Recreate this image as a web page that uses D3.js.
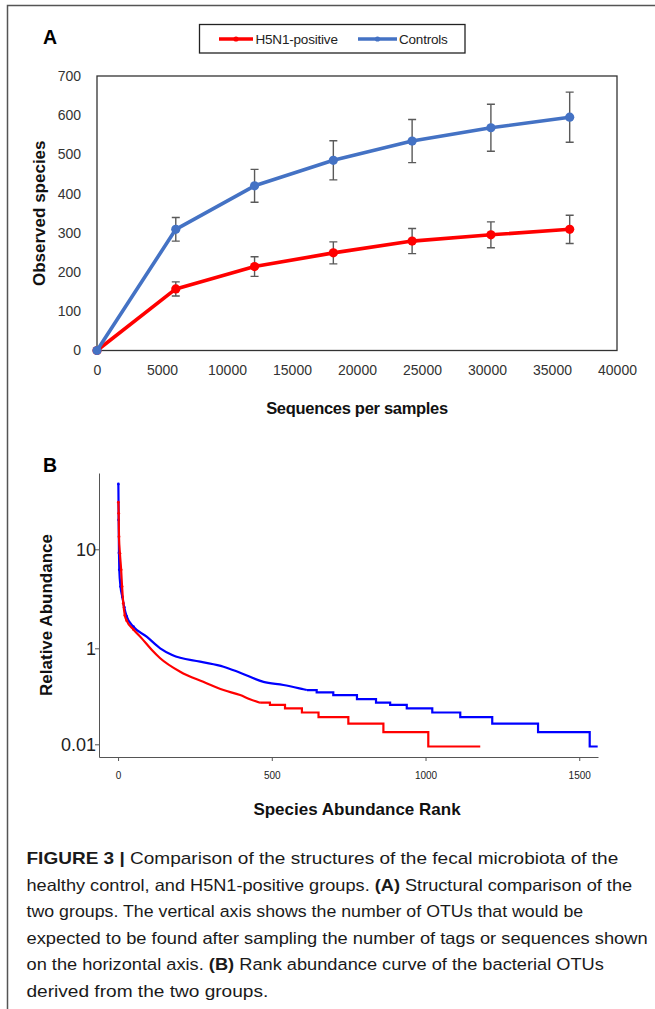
<!DOCTYPE html>
<html>
<head>
<meta charset="utf-8">
<script src="https://cdn.jsdelivr.net/npm/d3@7"></script>
<style>
  html, body { margin: 0; padding: 0; background: #fff; }
  svg { display: block; }
  text { font-family: "Liberation Sans", Arial, sans-serif; }
</style>
</head>
<body>
<script>
// ---------------- DATA ----------------
// Panel A: rarefaction curves
const seqDepth      = [0, 6060, 12120, 18180, 24240, 30300, 36360];
const h5n1Mean      = [0, 157, 214, 249, 279, 295, 309];
const h5n1Err       = [0, 18, 25, 28, 32, 33, 36];
const controlMean   = [0, 309, 420, 485, 534, 568, 595];
const controlErr    = [0, 30, 42, 50, 55, 60, 64];
const seriesNames   = ["H5N1-positive", "Controls"];
const xTicksA       = [0, 5000, 10000, 15000, 20000, 25000, 30000, 35000, 40000];
const yTicksA       = [0, 100, 200, 300, 400, 500, 600, 700];

// Panel B: rank abundance curves (head = dense part, steps = tail)
const controlHeadRank  = [1, 2, 3, 4, 8, 14, 20, 28, 50, 93, 137, 176, 267, 343, 397, 473, 538, 603, 614];
const controlHeadAbund = [45.7, 19.8, 9.2, 6.2, 4.2, 3.3, 2.6, 2.1, 1.65, 1.31, 1.0, 0.725, 0.526, 0.414, 0.31, 0.2, 0.172, 0.14, 0.135];
const controlStepRank  = [614, 646, 700, 777, 839, 885, 939, 1022, 1113, 1217, 1366, 1534, 1560];
const controlStepAbund = [0.135, 0.121, 0.106, 0.087, 0.074, 0.066, 0.056, 0.046, 0.037, 0.027, 0.018, 0.009, 0.009];

const h5n1HeadRank  = [1, 2, 3, 6, 10, 13, 17, 22, 28, 50, 77, 110, 137, 202, 277, 343, 397, 429, 462];
const h5n1HeadAbund = [29.9, 23.1, 13.4, 9.1, 6.2, 4.2, 2.85, 2.15, 1.9, 1.55, 1.26, 0.92, 0.62, 0.325, 0.2, 0.135, 0.106, 0.087, 0.0735];
const h5n1StepRank  = [462, 494, 543, 598, 652, 749, 863, 1009, 1178];
const h5n1StepAbund = [0.0735, 0.066, 0.056, 0.046, 0.037, 0.027, 0.018, 0.009, 0.009];

const xTicksB      = [0, 500, 1000, 1500];
const yTicksB      = [10, 1, 0.01];
const yTickLabelsB = ["10", "1", "0.01"];

const captionLines = [
  [["FIGURE 3 | ", true], ["Comparison of the structures of the fecal microbiota of the", false]],
  [["healthy control, and H5N1-positive groups. ", false], ["(A)", true], [" Structural comparison of the", false]],
  [["two groups. The vertical axis shows the number of OTUs that would be", false]],
  [["expected to be found after sampling the number of tags or sequences shown", false]],
  [["on the horizontal axis. ", false], ["(B)", true], [" Rank abundance curve of the bacterial OTUs", false]],
  [["derived from the two groups.", false]]
];
const captionWidths = [592, 606, 557, 622, 578, 242];

// ---------------- DRAW ----------------
const W = 655, H = 1009;
const RED = "#ff0000", BLUE_A = "#4472c4", BLUE_B = "#0000ff";
const svg = d3.select("body").append("svg").attr("width", W).attr("height", H);
svg.append("rect").attr("width", W).attr("height", H).attr("fill", "#fff");

// outer frame (top + left rule)
svg.append("path").attr("d", `M7.5,1009 V5.5 H655`).attr("fill", "none")
  .attr("stroke", "#555").attr("stroke-width", 1.5);

// ===== Panel A =====
svg.append("text").attr("x", 43).attr("y", 43.5).attr("font-size", 19.5)
  .attr("font-weight", "bold").attr("fill", "#000").text("A");

const xA = d3.scaleLinear().domain([0, 40000]).range([97, 617]);
const yA = d3.scaleLinear().domain([0, 700]).range([350.5, 76]);

const gA = svg.append("g");
gA.append("rect").attr("x", xA(0)).attr("y", yA(700))
  .attr("width", xA(40000) - xA(0)).attr("height", yA(0) - yA(700))
  .attr("fill", "none").attr("stroke", "#333").attr("stroke-width", 1.3);

const axA_x = gA.append("g").attr("transform", `translate(0,${yA(0)})`)
  .call(d3.axisBottom(xA).tickValues(xTicksA).tickSize(0).tickPadding(15).tickFormat(d3.format("d")));
axA_x.select(".domain").remove();
axA_x.selectAll("text").attr("font-size", 14).attr("fill", "#333")
  .attr("font-family", "'Liberation Sans', Arial, sans-serif");

const axA_y = gA.append("g").attr("transform", `translate(${xA(0)},0)`)
  .call(d3.axisLeft(yA).tickValues(yTicksA).tickSize(0).tickPadding(16).tickFormat(d3.format("d")));
axA_y.select(".domain").remove();
axA_y.selectAll("text").attr("font-size", 14).attr("fill", "#333")
  .attr("font-family", "'Liberation Sans', Arial, sans-serif");

gA.append("text").attr("x", 357).attr("y", 414).attr("text-anchor", "middle")
  .attr("font-size", 16.5).attr("font-weight", "bold").attr("fill", "#111")
  .attr("letter-spacing", -0.3).text("Sequences per samples");
gA.append("text").attr("transform", `translate(45,${(yA(0) + yA(700)) / 2}) rotate(-90)`)
  .attr("text-anchor", "middle").attr("font-size", 17).attr("font-weight", "bold")
  .attr("fill", "#111").text("Observed species");

const seriesA = [
  { name: seriesNames[0], mean: h5n1Mean, err: h5n1Err, color: RED },
  { name: seriesNames[1], mean: controlMean, err: controlErr, color: BLUE_A }
];
const lineA = d3.line().x(d => xA(d[0])).y(d => yA(d[1]));

// error bars first
seriesA.forEach(s => {
  const pts = seqDepth.map((x, i) => ({ x, m: s.mean[i], e: s.err[i] })).filter(p => p.e > 0);
  const g = gA.append("g").attr("stroke", "#5a5a5a").attr("stroke-width", 1.4).attr("fill", "none");
  pts.forEach(p => {
    const cx = xA(p.x), t = yA(p.m + p.e), b = yA(p.m - p.e);
    g.append("path").attr("d", `M${cx},${t} V${b} M${cx - 4},${t} H${cx + 4} M${cx - 4},${b} H${cx + 4}`);
  });
});
seriesA.forEach(s => {
  const pts = seqDepth.map((x, i) => [x, s.mean[i]]);
  gA.append("path").attr("d", lineA(pts)).attr("fill", "none")
    .attr("stroke", s.color).attr("stroke-width", 3.6).attr("stroke-linejoin", "round");
  gA.selectAll(null).data(pts).join("circle")
    .attr("cx", d => xA(d[0])).attr("cy", d => yA(d[1])).attr("r", 4.6).attr("fill", s.color);
});

// legend
const leg = svg.append("g");
leg.append("rect").attr("x", 199.5).attr("y", 24.5).attr("width", 265.5).attr("height", 28.5)
  .attr("fill", "#fff").attr("stroke", "#222").attr("stroke-width", 1.3);
const legItems = [
  { name: seriesNames[0], color: RED, x1: 219, x2: 253, tx: 255.5 },
  { name: seriesNames[1], color: BLUE_A, x1: 358, x2: 397, tx: 399 }
];
legItems.forEach(it => {
  leg.append("line").attr("x1", it.x1).attr("x2", it.x2).attr("y1", 39).attr("y2", 39)
    .attr("stroke", it.color).attr("stroke-width", 3.4);
  leg.append("circle").attr("cx", (it.x1 + it.x2) / 2).attr("cy", 39).attr("r", 2.6).attr("fill", it.color);
  leg.append("text").attr("x", it.tx).attr("y", 44).attr("font-size", 13.5)
    .attr("fill", "#222").attr("letter-spacing", -0.2).text(it.name);
});

// ===== Panel B =====
svg.append("text").attr("x", 43).attr("y", 472).attr("font-size", 19.5)
  .attr("font-weight", "bold").attr("fill", "#000").text("B");

const xB = d3.scaleLinear().domain([-62, 1561]).range([99, 598]);
const yB = d3.scaleLog().domain([59, 10, 1, 0.01, 0.00543]).range([473, 549.3, 648.3, 744.3, 757]);

const gB = svg.append("g");
const axB_x = gB.append("g").attr("transform", `translate(0,757)`)
  .call(d3.axisBottom(xB).tickValues(xTicksB).tickSize(4).tickSizeOuter(0).tickPadding(11).tickFormat(d3.format("d")));
axB_x.select(".domain").attr("stroke", "#555");
axB_x.selectAll(".tick line").attr("stroke", "#555");
axB_x.selectAll("text").attr("font-size", 10).attr("fill", "#222")
  .attr("font-family", "'Liberation Sans', Arial, sans-serif");

const axB_y = gB.append("g").attr("transform", `translate(99,0)`)
  .call(d3.axisLeft(yB).tickValues(yTicksB).tickSize(4).tickSizeOuter(0).tickPadding(-1)
    .tickFormat((d, i) => yTickLabelsB[i]));
axB_y.select(".domain").attr("stroke", "#555");
axB_y.selectAll(".tick line").attr("stroke", "#555");
axB_y.selectAll("text").attr("font-size", 18).attr("fill", "#222")
  .attr("font-family", "'Liberation Sans', Arial, sans-serif");

gB.append("text").attr("x", 357).attr("y", 815).attr("text-anchor", "middle")
  .attr("font-size", 17).attr("font-weight", "bold").attr("fill", "#111")
  .text("Species Abundance Rank");
gB.append("text").attr("transform", `translate(52,615) rotate(-90)`)
  .attr("text-anchor", "middle").attr("font-size", 17).attr("font-weight", "bold")
  .attr("fill", "#111").text("Relative Abundance");

const seriesB = [
  { headR: controlHeadRank, headA: controlHeadAbund, stepR: controlStepRank, stepA: controlStepAbund, color: BLUE_B },
  { headR: h5n1HeadRank, headA: h5n1HeadAbund, stepR: h5n1StepRank, stepA: h5n1StepAbund, color: RED }
];
const lineB = d3.line().x(d => xB(d[0])).y(d => yB(d[1])).curve(d3.curveMonotoneX);
const stepB = d3.line().x(d => xB(d[0])).y(d => yB(d[1])).curve(d3.curveStepAfter);
seriesB.forEach(s => {
  const head = s.headR.map((r, i) => [r, s.headA[i]]);
  const tail = s.stepR.map((r, i) => [r, s.stepA[i]]);
  gB.append("path").attr("d", lineB(head)).attr("fill", "none").attr("stroke", s.color)
    .attr("stroke-width", 2.2).attr("stroke-linejoin", "round");
  gB.append("path").attr("d", stepB(tail)).attr("fill", "none").attr("stroke", s.color)
    .attr("stroke-width", 2.2);
  gB.selectAll(null).data(head.filter(d => d[0] <= 50)).join("circle")
    .attr("cx", d => xB(d[0])).attr("cy", d => yB(d[1])).attr("r", 1.4).attr("fill", s.color);
});

// ===== Caption =====
const cap = svg.append("g");
captionLines.forEach((parts, i) => {
  const t = cap.append("text").attr("x", 0).attr("y", 0).attr("font-size", 16.5).attr("fill", "#1a1a1a");
  parts.forEach(([txt, bold]) => {
    t.append("tspan").attr("font-weight", bold ? "bold" : "normal").text(txt);
  });
  const w = t.node().getComputedTextLength();
  const sx = captionWidths[i] / w;
  t.attr("transform", `translate(26.5,${864 + i * 26.5}) scale(${sx},1)`);
});
</script>
</body>
</html>
